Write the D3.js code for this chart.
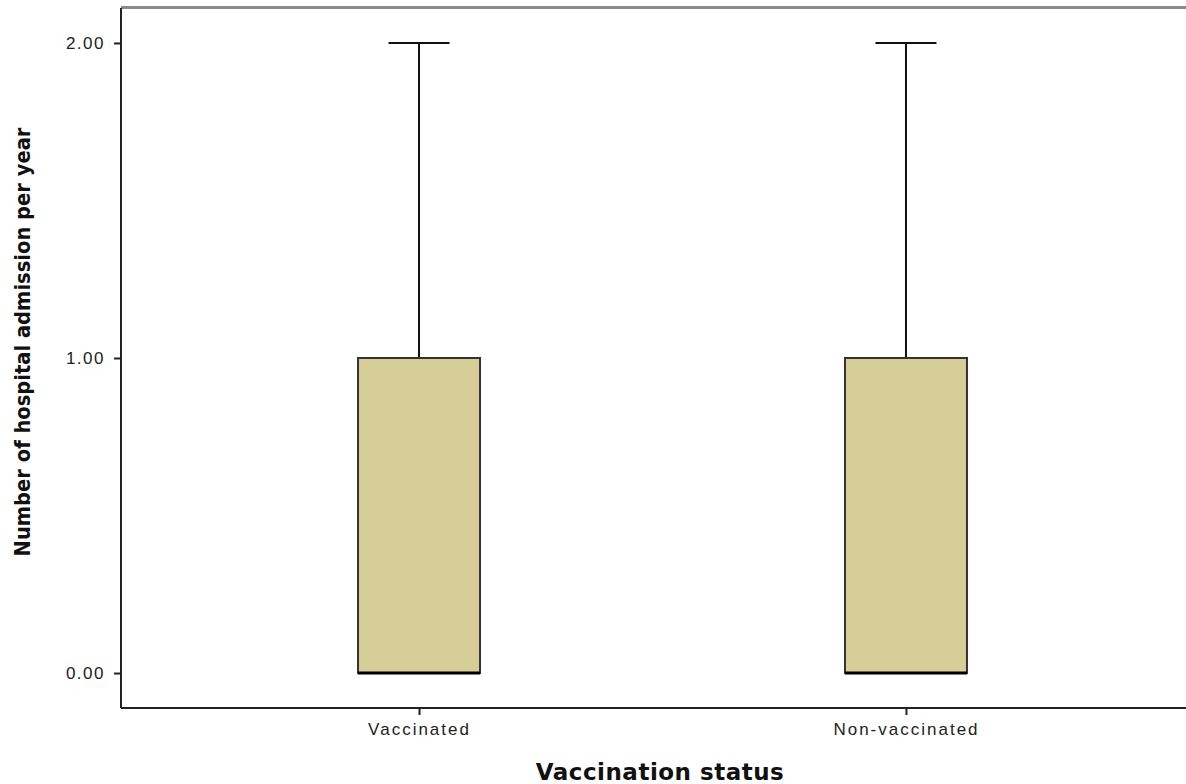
<!DOCTYPE html>
<html>
<head>
<meta charset="utf-8">
<script src="https://cdn.jsdelivr.net/npm/d3@7"></script>
<style>
  body { margin: 0; background: #fff; }
</style>
</head>
<body>
<svg id="chart"></svg>
<script>
var groups = ["Vaccinated", "Non-vaccinated"];
var mins    = [0, 0];
var q1s     = [0, 0];
var medians = [0, 0];
var q3s     = [1, 1];
var maxs    = [2, 2];
var yTicks  = [0, 1, 2];

var W = 1186, H = 784;
var plot = {left: 121, top: 8, right: 1204, bottom: 708};

var svg = d3.select("#chart").attr("width", W).attr("height", H);

var x = d3.scalePoint().domain(groups).range([plot.left, plot.right]).padding(0.612);
var y = d3.scaleLinear().domain([-0.111, 2.111]).range([plot.bottom, plot.top]);

var boxW = 122, capW = 61;

var data = groups.map(function(g, i) {
  return {g: g, min: mins[i], q1: q1s[i], med: medians[i], q3: q3s[i], max: maxs[i]};
});

// top frame line
svg.append("line")
  .attr("x1", plot.left).attr("x2", W)
  .attr("y1", plot.top - 0.5).attr("y2", plot.top - 0.5)
  .attr("stroke", "#8a8a8a").attr("stroke-width", 3);

// y axis
var yAxis = svg.append("g")
  .attr("transform", "translate(" + plot.left + ",0)")
  .call(d3.axisLeft(y).tickValues(yTicks).tickSize(7).tickSizeOuter(0).tickFormat(d3.format(".2f")));
yAxis.select(".domain").attr("stroke", "#222").attr("stroke-width", 2)
  .attr("d", "M0," + plot.top + "V" + plot.bottom);
yAxis.selectAll(".tick line").attr("stroke", "#222").attr("stroke-width", 2);
yAxis.selectAll("text")
  .attr("x", -16)
  .style("font-family", "'Liberation Sans', Arial, sans-serif")
  .style("font-size", "17px")
  .style("letter-spacing", "1.5px")
  .attr("fill", "#222");

// x axis
var xAxis = svg.append("g")
  .attr("transform", "translate(0," + plot.bottom + ")")
  .call(d3.axisBottom(x).tickSize(7).tickSizeOuter(0));
xAxis.select(".domain").attr("stroke", "#222").attr("stroke-width", 2)
  .attr("d", "M" + plot.left + ",0H" + W);
xAxis.selectAll(".tick line").attr("stroke", "#222").attr("stroke-width", 2);
xAxis.selectAll("text")
  .attr("y", 15)
  .style("font-family", "'Liberation Sans', Arial, sans-serif")
  .style("font-size", "17px")
  .style("letter-spacing", "2px")
  .attr("fill", "#222");

var box = svg.selectAll(".box").data(data).enter().append("g").attr("class", "box");

// whiskers
box.append("line")
  .attr("x1", function(d) { return x(d.g); })
  .attr("x2", function(d) { return x(d.g); })
  .attr("y1", function(d) { return y(d.max); })
  .attr("y2", function(d) { return y(d.q3); })
  .attr("stroke", "#111").attr("stroke-width", 2);
box.append("line")
  .attr("x1", function(d) { return x(d.g) - capW / 2; })
  .attr("x2", function(d) { return x(d.g) + capW / 2; })
  .attr("y1", function(d) { return y(d.max); })
  .attr("y2", function(d) { return y(d.max); })
  .attr("stroke", "#111").attr("stroke-width", 2);

box.append("rect")
  .attr("x", function(d) { return x(d.g) - boxW / 2; })
  .attr("width", boxW)
  .attr("y", function(d) { return y(d.q3); })
  .attr("height", function(d) { return y(d.q1) - y(d.q3); })
  .attr("fill", "#d6cd97")
  .attr("stroke", "#333").attr("stroke-width", 2);

// median
box.append("line")
  .attr("x1", function(d) { return x(d.g) - boxW / 2; })
  .attr("x2", function(d) { return x(d.g) + boxW / 2; })
  .attr("y1", function(d) { return y(d.med); })
  .attr("y2", function(d) { return y(d.med); })
  .attr("stroke", "#000").attr("stroke-width", 3);

// axis titles
svg.append("text")
  .attr("x", 660).attr("y", 780)
  .attr("text-anchor", "middle")
  .style("font-family", "'DejaVu Sans', Verdana, sans-serif")
  .style("font-weight", "bold")
  .style("font-size", "23px")
  .style("letter-spacing", "0.5px")
  .attr("fill", "#111")
  .text("Vaccination status");

svg.append("text")
  .attr("transform", "translate(30,342) rotate(-90)")
  .attr("text-anchor", "middle")
  .style("font-family", "'DejaVu Sans Condensed', 'DejaVu Sans', sans-serif")
  .style("font-weight", "bold")
  .style("font-size", "21.7px")
  .style("font-stretch", "condensed")
  .attr("fill", "#111")
  .text("Number of hospital admission per year");
</script>
</body>
</html>
